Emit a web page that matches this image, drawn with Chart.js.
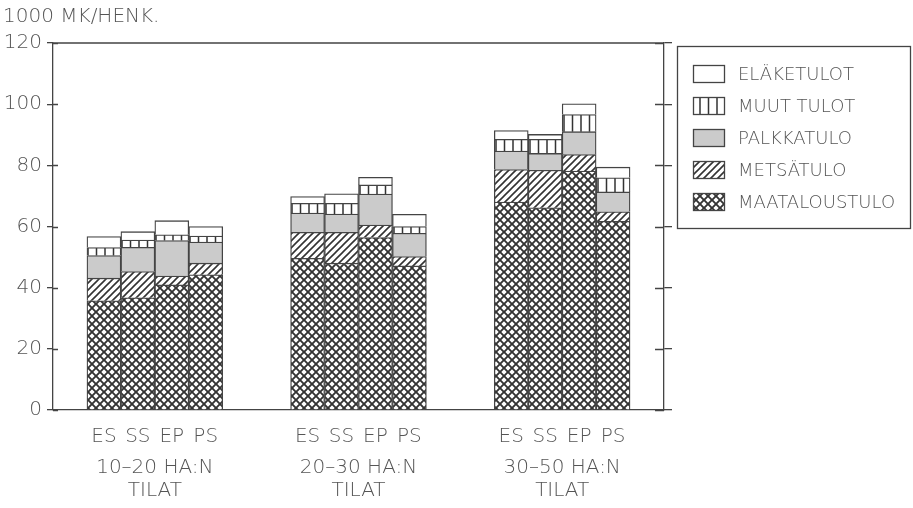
<!DOCTYPE html>
<html>
<head>
<meta charset="utf-8">
<script src="https://cdn.jsdelivr.net/npm/chart.js@4/dist/chart.umd.min.js"></script>
<style>
  html, body { margin: 0; padding: 0; background: #fff; }
  #wrap { width: 913px; height: 508px; }
</style>
</head>
<body>
<div id="wrap"><canvas id="myChart" width="913" height="508"></canvas></div>
<script>
// data, 1000 mk per person
const groups = ["10–20 HA:N", "20–30 HA:N", "30–50 HA:N"];
const farmTypes = ["ES", "SS", "EP", "PS"];
const yTicks = [0, 20, 40, 60, 80, 100, 120];

// order within each array: group 1 ES SS EP PS, group 2 ..., group 3 ...
const maataloustulo = [35.7, 36.7, 40.9, 44.2, 49.6, 48.0, 56.4, 47.1, 68.0, 66.1, 78.1, 61.7];
const metsatulo = [7.4, 8.6, 2.9, 3.8, 8.5, 10.1, 4.1, 3.1, 10.6, 12.3, 5.4, 3.1];
const palkkatulo = [7.4, 7.9, 11.6, 6.9, 6.3, 6.0, 10.1, 7.6, 6.1, 5.5, 7.5, 6.5];
const muutTulot = [2.6, 2.4, 1.9, 2.0, 3.2, 3.5, 3.0, 2.2, 3.8, 4.6, 5.6, 4.6];
const elaketulot = [3.6, 2.7, 4.6, 3.1, 2.2, 3.1, 2.5, 4.0, 2.9, 1.6, 3.5, 3.5];

const lineCol = "#444";
const textCol = "#555";
const fontFam = "'DejaVu Sans', sans-serif";

// each group gets an empty slot on both sides, so bars sit side by side
function slots(values) {
  let out = [];
  for (let g = 0; g < groups.length; g++) {
    out.push(null);
    for (let i = 0; i < farmTypes.length; i++) out.push(values[g * 4 + i]);
    out.push(null);
  }
  return out;
}
let labels = [];
for (let g = 0; g < groups.length; g++) {
  labels.push("");
  farmTypes.forEach((t) => labels.push(t));
  labels.push("");
}

function makePattern(w, h, draw) {
  const c = document.createElement("canvas");
  c.width = w;
  c.height = h;
  const ctx = c.getContext("2d");
  ctx.fillStyle = "#fff";
  ctx.fillRect(0, 0, w, h);
  ctx.strokeStyle = "#333";
  draw(ctx);
  return document.getElementById("myChart").getContext("2d").createPattern(c, "repeat");
}

const crossPat = makePattern(8, 8, (ctx) => {
  ctx.lineWidth = 1.9;
  ctx.beginPath();
  ctx.moveTo(-2, -2); ctx.lineTo(10, 10);
  ctx.moveTo(10, -2); ctx.lineTo(-2, 10);
  ctx.stroke();
});
const slashPat = makePattern(7, 7, (ctx) => {
  ctx.lineWidth = 1.6;
  ctx.beginPath();
  ctx.moveTo(-2, 9); ctx.lineTo(9, -2);
  ctx.moveTo(-2, 2); ctx.lineTo(2, -2);
  ctx.moveTo(5, 9); ctx.lineTo(9, 5);
  ctx.stroke();
});
const vertPat = makePattern(34, 8, (ctx) => {
  ctx.lineWidth = 1.5;
  ctx.beginPath();
  [3, 11.5, 20, 28.5].forEach((x) => { ctx.moveTo(x, 0); ctx.lineTo(x, 8); });
  ctx.stroke();
});

const series = [
  { label: "MAATALOUSTULO", data: maataloustulo, fill: crossPat },
  { label: "METSÄTULO", data: metsatulo, fill: slashPat },
  { label: "PALKKATULO", data: palkkatulo, fill: "#cbcbcb" },
  { label: "MUUT TULOT", data: muutTulot, fill: vertPat },
  { label: "ELÄKETULOT", data: elaketulot, fill: "#ffffff" },
];

const frame = {
  id: "frame",
  afterDraw(chart) {
    const ctx = chart.ctx;
    const a = chart.chartArea;
    const y = chart.scales.y;
    ctx.save();
    ctx.strokeStyle = lineCol;
    ctx.lineWidth = 1.3;
    ctx.beginPath();
    ctx.moveTo(a.left, a.top);
    ctx.lineTo(a.right, a.top);
    yTicks.forEach((v) => {
      const py = Math.round(y.getPixelForValue(v)) + 0.5;
      ctx.moveTo(a.left, py); ctx.lineTo(a.left + 5, py);
      ctx.moveTo(a.right - 9, py); ctx.lineTo(a.right, py);
    });
    ctx.stroke();

    // unit text
    ctx.fillStyle = textCol;
    ctx.font = "200 20px " + fontFam;
    ctx.textBaseline = "middle";
    ctx.textAlign = "left";
    ctx.fillText("1000 MK/HENK.", 3, 17);

    // legend box
    const bx = 677, by = 46, bw = 233, bh = 182;
    ctx.lineWidth = 1.3;
    ctx.strokeRect(bx + 0.5, by + 0.5, bw, bh);
    const ds = chart.data.datasets.slice().reverse();
    ds.forEach((d, i) => {
      const cy = 74 + i * 32;
      ctx.fillStyle = d.backgroundColor;
      ctx.fillRect(693, cy - 9, 32, 18);
      ctx.lineWidth = 1.3;
      ctx.strokeRect(693.5, cy - 8.5, 31, 17);
      ctx.fillStyle = textCol;
      ctx.font = "200 18px " + fontFam;
      ctx.fillText(d.label, 738, cy + 1);
    });
    ctx.restore();
  },
};

new Chart("myChart", {
  type: "bar",
  data: {
    labels: labels,
    datasets: series.map((s) => ({
      label: s.label,
      data: slots(s.data),
      backgroundColor: s.fill,
      borderColor: lineCol,
      borderWidth: 1.3,
      barPercentage: 1,
      categoryPercentage: 1,
    })),
  },
  options: {
    responsive: false,
    animation: false,
    events: [],
    layout: { padding: { left: 0, right: 239, top: 43, bottom: 0 } },
    plugins: { legend: { display: false }, tooltip: { enabled: false } },
    scales: {
      x: {
        stacked: true,
        grid: { display: false },
        border: { display: true, color: lineCol, width: 1.3 },
        ticks: { color: textCol, font: { family: fontFam, size: 20, weight: 200 }, padding: 7, autoSkip: false, maxRotation: 0 },
        afterFit: (s) => { s.height = 38; },
      },
      x2: {
        type: "category",
        position: "bottom",
        labels: groups.map((g) => [g, "TILAT"]),
        offset: true,
        display: true,
        grid: { display: false },
        border: { display: false },
        ticks: { color: textCol, font: { family: fontFam, size: 20, weight: 200, lineHeight: 1.15 }, padding: 0, maxRotation: 0 },
        afterFit: (s) => { s.height = 60; },
      },
      y: {
        stacked: true,
        min: 0,
        max: 120,
        ticks: { stepSize: 20, color: textCol, font: { family: fontFam, size: 20, weight: 200 }, padding: 5 },
        grid: { drawOnChartArea: false, tickLength: 6, color: lineCol, lineWidth: 1.3 },
        border: { color: lineCol, width: 1.3 },
        afterFit: (s) => { s.width = 53; },
      },
      y2: {
        position: "right",
        min: 0,
        max: 120,
        ticks: { display: false, stepSize: 20 },
        grid: { drawOnChartArea: false, tickLength: 8, color: lineCol, lineWidth: 1.3 },
        border: { color: lineCol, width: 1.3 },
        afterFit: (s) => { s.width = 10; },
      },
    },
  },
  plugins: [frame],
});
</script>
</body>
</html>
